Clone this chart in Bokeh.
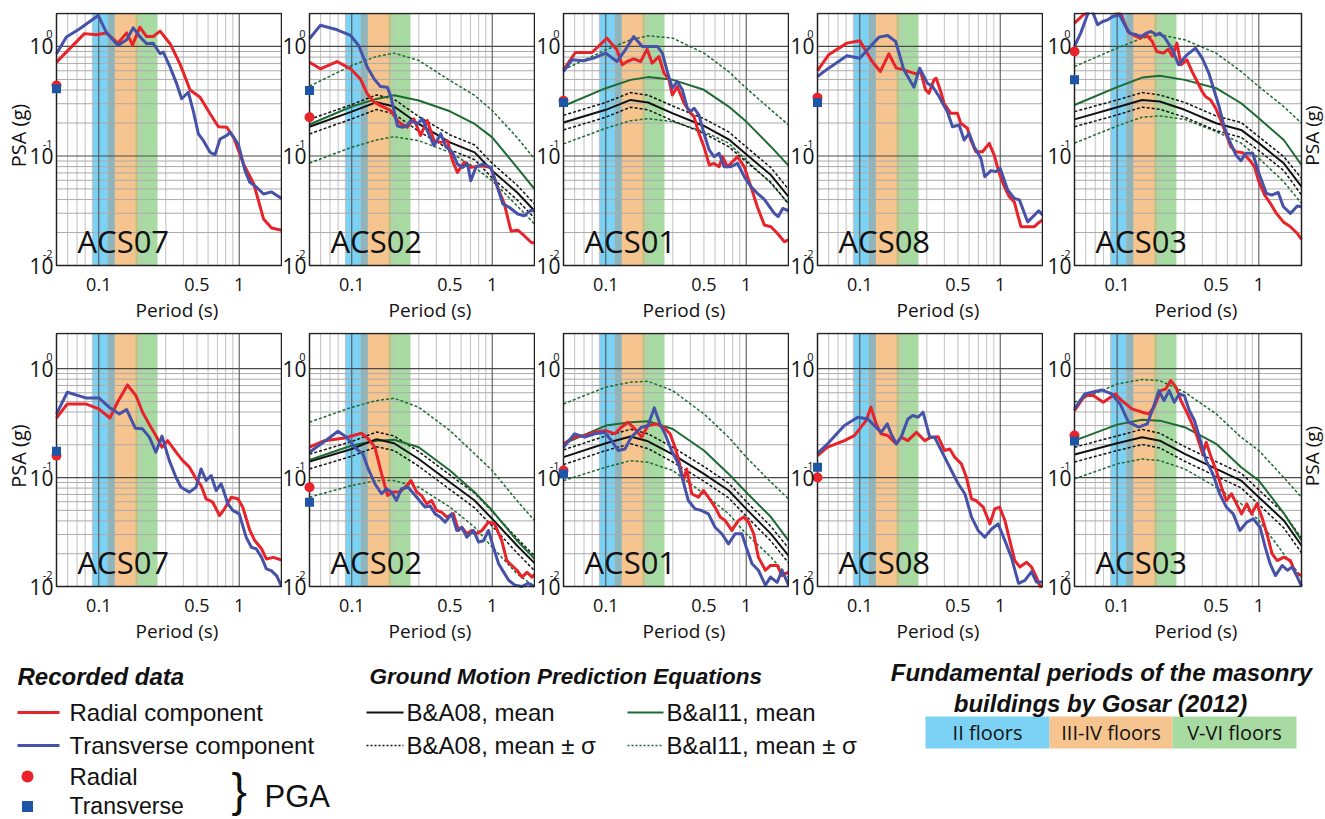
import math
from bokeh.plotting import figure
from bokeh.layouts import row, column
from bokeh.models import Label, Range1d, Spacer
from bokeh.embed import file_html
from bokeh.resources import INLINE

# ---------------- axes / ticks ----------------
X_MIN, X_MAX, Y_MIN = 0.05, 2.0, 0.01
X_TICKS = [0.1, 0.5, 1.0]
X_TICK_LABELS = ["0.1", "0.5", "1"]
Y_TICKS = [0.01, 0.1, 1.0]
Y_TICK_EXP = ["-2", "-1", "0"]
X_GRID_MAJOR = [0.1, 1.0]
X_GRID_MINOR = [0.06, 0.07, 0.08, 0.09, 0.2, 0.3, 0.4, 0.5, 0.6, 0.7, 0.8, 0.9]
Y_GRID_MAJOR = [0.1, 1.0]
Y_GRID_MINOR = [0.02, 0.03, 0.04, 0.05, 0.06, 0.07, 0.08, 0.09,
                0.2, 0.3, 0.4, 0.5, 0.6, 0.7, 0.8, 0.9]

# ---------------- fundamental periods (Gosar 2012) ----------------
BAND_NAMES = ["II floors", "III-IV floors", "V-VI floors"]
BAND_II = (0.090, 0.130)
BAND_III_IV = (0.116, 0.190)
BAND_V_VI = (0.183, 0.262)

# ---------------- GMPE periods ----------------
GMPE_T = [0.05, 0.1, 0.15, 0.2, 0.3, 0.5, 0.75, 1.0, 1.5, 2.0]

# ================= TOP ROW =================
# ACS07 (top)
t_acs07_rad_T = [0.05, 0.079, 0.096, 0.113, 0.137, 0.158, 0.174, 0.196, 0.219, 0.244, 0.273, 0.322, 0.379, 0.447,
                 0.526, 0.62, 0.711, 0.816, 0.912, 1.074, 1.27, 1.49, 1.70, 2.0]
t_acs07_rad_psa = [0.72, 1.31, 1.28, 1.33, 1.07, 1.33, 1.03, 1.50, 1.23, 1.23, 1.38, 1.06, 0.69, 0.40,
                   0.344, 0.243, 0.185, 0.183, 0.148, 0.084, 0.0555, 0.0266, 0.022, 0.021]
t_acs07_tra_T = [0.05, 0.0588, 0.0732, 0.099, 0.113, 0.137, 0.158, 0.176, 0.196, 0.219, 0.244, 0.273, 0.288, 0.322,
                 0.359, 0.389, 0.434, 0.47, 0.512, 0.556, 0.62, 0.673, 0.731, 0.816, 0.86, 0.985, 1.10, 1.19,
                 1.33, 1.49, 1.7, 2.0]
t_acs07_tra_psa = [0.857, 1.22, 1.45, 1.92, 1.35, 1.02, 1.15, 1.48, 1.23, 1.06, 1.07, 0.857, 0.888, 0.647,
                   0.455, 0.333, 0.382, 0.26, 0.159, 0.138, 0.108, 0.103, 0.143, 0.154, 0.165, 0.128, 0.0735,
                   0.0574, 0.0518, 0.045, 0.047, 0.041]
t_acs07_pga = (0.44, 0.41)

# ACS02 (top)
t_acs02_rad_T = [0.05, 0.0597, 0.0786, 0.098, 0.115, 0.129, 0.144, 0.169, 0.189, 0.2, 0.217, 0.248, 0.277, 0.309,
                 0.345, 0.385, 0.43, 0.48, 0.521, 0.565, 0.631, 0.704, 0.83, 0.978, 1.09, 1.22, 1.36, 1.52,
                 1.69, 1.89, 2.0]
t_acs02_rad_psa = [0.719, 0.625, 0.729, 0.625, 0.506, 0.369, 0.310, 0.279, 0.260, 0.234, 0.203, 0.183, 0.218,
                   0.154, 0.211, 0.138, 0.133, 0.138, 0.0908, 0.0709, 0.0874, 0.0787, 0.0816, 0.0787, 0.0518,
                   0.0365, 0.0207, 0.021, 0.0187, 0.0163, 0.016]
t_acs02_tra_T = [0.05, 0.0597, 0.0786, 0.098, 0.112, 0.129, 0.144, 0.160, 0.179, 0.189, 0.2, 0.211, 0.229, 0.248,
                 0.262, 0.293, 0.318, 0.345, 0.385, 0.43, 0.467, 0.521, 0.565, 0.614, 0.667, 0.704, 0.765,
                 0.853, 0.978, 1.09, 1.19, 1.32, 1.52, 1.69, 1.89, 2.0]
t_acs02_tra_psa = [1.175, 1.56, 1.42, 1.26, 1.02, 0.647, 0.506, 0.431, 0.425, 0.356, 0.26, 0.189, 0.183, 0.189,
                   0.211, 0.196, 0.218, 0.170, 0.124, 0.159, 0.122, 0.108, 0.0843, 0.0787, 0.0843, 0.0595,
                   0.0787, 0.0843, 0.0787, 0.0518, 0.0365, 0.034, 0.0295, 0.0285, 0.032, 0.0315]
t_acs02_pga = (0.226, 0.396)
t_acs02_ba_mean = [0.185, 0.254, 0.310, 0.283, 0.196, 0.133, 0.108, 0.0735, 0.0466, 0.0316]
t_acs02_ba_hi = [0.216, 0.295, 0.361, 0.330, 0.229, 0.156, 0.126, 0.0857, 0.0543, 0.0364]
t_acs02_ba_lo = [0.159, 0.218, 0.266, 0.242, 0.168, 0.114, 0.0925, 0.063, 0.0399, 0.0271]
t_acs02_bi_mean = [0.194, 0.283, 0.332, 0.359, 0.321, 0.256, 0.196, 0.148, 0.0787, 0.0499]
t_acs02_bi_hi = [0.434, 0.670, 0.81, 0.869, 0.745, 0.489, 0.357, 0.26, 0.148, 0.094]
t_acs02_bi_lo = [0.0863, 0.120, 0.140, 0.150, 0.138, 0.108, 0.0787, 0.0594, 0.0352, 0.0239]

# ACS01 (top)
t_acs01_rad_T = [0.05, 0.0607, 0.0798, 0.102, 0.12, 0.131, 0.142, 0.158, 0.177, 0.197, 0.214, 0.239, 0.26, 0.282,
                 0.298, 0.323, 0.361, 0.403, 0.425, 0.46, 0.50, 0.545, 0.59, 0.641, 0.678, 0.735, 0.867, 0.968,
                 1.08, 1.2, 1.345, 1.5, 1.67, 1.87, 2.0]
t_acs01_rad_psa = [0.612, 0.881, 0.881, 1.191, 0.932, 0.68, 0.729, 0.771, 0.729, 0.945, 0.704, 0.81, 0.570,
                   0.496, 0.361, 0.431, 0.303, 0.245, 0.229, 0.161, 0.1217, 0.0828, 0.0856, 0.0798, 0.0986,
                   0.0798, 0.0986, 0.0798, 0.0525, 0.0344, 0.0234, 0.0226, 0.0196, 0.0165, 0.0171]
t_acs01_tra_T = [0.05, 0.0575, 0.0696, 0.082, 0.1, 0.12, 0.138, 0.158, 0.182, 0.203, 0.233, 0.253, 0.274, 0.298,
                 0.323, 0.351, 0.381, 0.403, 0.425, 0.46, 0.50, 0.545, 0.59, 0.641, 0.696, 0.777, 0.867, 0.968,
                 1.08, 1.2, 1.345, 1.585, 1.69, 1.82, 2.0]
t_acs01_tra_psa = [0.59, 0.755, 0.74, 0.782, 0.869, 0.729, 0.932, 1.234, 1.0, 1.0, 1.0, 0.869, 0.59, 0.416,
                   0.479, 0.402, 0.273, 0.255, 0.273, 0.237, 0.161, 0.1135, 0.0986, 0.106, 0.0798, 0.0798,
                   0.0859, 0.0647, 0.0525, 0.0456, 0.0402, 0.0299, 0.028, 0.0332, 0.0316]
t_acs01_pga = (0.32, 0.308)
t_acs01_ba_mean = [0.202, 0.264, 0.325, 0.308, 0.245, 0.188, 0.142, 0.1035, 0.067, 0.0425]
t_acs01_ba_hi = [0.2355, 0.308, 0.379, 0.359, 0.286, 0.219, 0.166, 0.121, 0.0782, 0.0496]
t_acs01_ba_lo = [0.173, 0.226, 0.279, 0.264, 0.210, 0.161, 0.1216, 0.0887, 0.0574, 0.0364]
t_acs01_bi_mean = [0.286, 0.416, 0.4955, 0.525, 0.4955, 0.402, 0.2825, 0.206, 0.1216, 0.0817]
t_acs01_bi_hi = [0.612, 0.932, 1.151, 1.252, 1.191, 0.869, 0.59, 0.416, 0.264, 0.192]
t_acs01_bi_lo = [0.129, 0.179, 0.210, 0.219, 0.206, 0.167, 0.131, 0.0918, 0.0562, 0.0369]

# ACS08 (top)
t_acs08_rad_T = [0.05, 0.060, 0.081, 0.1, 0.1225, 0.14, 0.161, 0.182, 0.206, 0.25, 0.271, 0.294, 0.311, 0.338,
                 0.35, 0.377, 0.398, 0.444, 0.496, 0.524, 0.584, 0.617, 0.67, 0.748, 0.835, 0.906, 0.984,
                 1.07, 1.16, 1.26, 1.405, 1.57, 1.75, 1.88, 2.0]
t_acs08_rad_psa = [0.603, 0.839, 1.073, 1.127, 0.729, 0.59, 0.857, 0.634, 0.612, 0.562, 0.59, 0.402, 0.375,
                   0.496, 0.513, 0.388, 0.303, 0.245, 0.245, 0.199, 0.179, 0.140, 0.1093, 0.1093, 0.1305,
                   0.102, 0.0695, 0.0525, 0.0424, 0.038, 0.0226, 0.0226, 0.0226, 0.0246, 0.026]
t_acs08_tra_T = [0.05, 0.06, 0.081, 0.1, 0.116, 0.137, 0.158, 0.18, 0.206, 0.243, 0.267, 0.303, 0.33, 0.367,
                 0.394, 0.42, 0.457, 0.51, 0.553, 0.60, 0.652, 0.728, 0.777, 0.858, 0.93, 1.0, 1.13, 1.26,
                 1.37, 1.57, 1.88, 2.0]
t_acs08_tra_psa = [0.532, 0.634, 0.822, 0.782, 0.965, 1.217, 1.26, 1.11, 0.612, 0.425, 0.634, 0.462, 0.431,
                   0.349, 0.293, 0.255, 0.185, 0.192, 0.140, 0.161, 0.1217, 0.0953, 0.0647, 0.0735, 0.072,
                   0.077, 0.0489, 0.041, 0.0397, 0.025, 0.0316, 0.029]
t_acs08_pga = (0.341, 0.308)

# ACS03 (top)
t_acs03_rad_T = [0.05, 0.0569, 0.0689, 0.0906, 0.107, 0.119, 0.129, 0.1445, 0.161, 0.177, 0.19, 0.212, 0.23,
                 0.246, 0.264, 0.282, 0.311, 0.338, 0.367, 0.398, 0.42, 0.457, 0.496, 0.538, 0.584, 0.634,
                 0.689, 0.769, 0.858, 0.931, 1.0, 1.1, 1.19, 1.33, 1.49, 1.67, 1.87, 2.0]
t_acs03_rad_psa = [1.634, 1.91, 2.32, 2.24, 1.95, 1.37, 1.278, 1.19, 1.278, 1.11, 0.9, 0.869, 0.945, 0.81,
                   1.073, 0.68, 0.755, 0.59, 0.479, 0.388, 0.349, 0.325, 0.273, 0.213, 0.161, 0.1217, 0.1093,
                   0.107, 0.092, 0.0798, 0.0583, 0.0438, 0.038, 0.0299, 0.025, 0.0226, 0.0196, 0.0173]
t_acs03_tra_T = [0.05, 0.0553, 0.0617, 0.065, 0.0728, 0.079, 0.0858, 0.0931, 0.104, 0.113, 0.1225, 0.137,
                 0.148, 0.161, 0.173, 0.19, 0.2, 0.218, 0.246, 0.271, 0.311, 0.357, 0.398, 0.444, 0.482,
                 0.524, 0.569, 0.617, 0.689, 0.748, 0.812, 0.906, 1.0, 1.13, 1.23, 1.37, 1.49, 1.67, 1.87, 2.0]
t_acs03_tra_psa = [1.0, 1.324, 1.95, 2.3, 1.58, 1.69, 1.75, 1.88, 1.95, 1.58, 1.324, 1.278, 1.234, 1.324,
                   1.37, 1.278, 1.324, 1.19, 0.932, 0.68, 0.839, 0.965, 0.782, 0.57, 0.402, 0.283, 0.185,
                   0.140, 0.102, 0.0906, 0.106, 0.106, 0.0695, 0.0456, 0.044, 0.0464, 0.0344, 0.0299,
                   0.035, 0.0344]
t_acs03_pga = (0.9, 0.496)
t_acs03_ba_mean = [0.216, 0.279, 0.325, 0.314, 0.264, 0.199, 0.173, 0.131, 0.0857, 0.0525]
t_acs03_ba_hi = [0.254, 0.325, 0.379, 0.361, 0.308, 0.232, 0.202, 0.150, 0.0986, 0.0625]
t_acs03_ba_lo = [0.185, 0.237, 0.279, 0.267, 0.226, 0.1706, 0.148, 0.112, 0.0735, 0.044]
t_acs03_bi_mean = [0.292, 0.425, 0.52, 0.54, 0.4955, 0.416, 0.303, 0.221, 0.140, 0.0828]
t_acs03_bi_hi = [0.656, 0.966, 1.191, 1.279, 1.151, 0.869, 0.59, 0.43, 0.2825, 0.199]
t_acs03_bi_lo = [0.131, 0.188, 0.226, 0.232, 0.216, 0.167, 0.131, 0.0952, 0.0582, 0.0369]

# ================= BOTTOM ROW =================
# ACS07 (bottom)
b_acs07_rad_T = [0.05, 0.0597, 0.0807, 0.1, 0.12, 0.136, 0.16, 0.184, 0.205, 0.235, 0.255, 0.282, 0.309, 0.355,
                 0.396, 0.442, 0.493, 0.535, 0.581, 0.648, 0.724, 0.786, 0.877, 0.978, 1.06, 1.19, 1.29, 1.44,
                 1.56, 1.75, 2.0]
b_acs07_rad_psa = [0.352, 0.474, 0.474, 0.427, 0.352, 0.491, 0.708, 0.565, 0.398, 0.29, 0.243, 0.19, 0.218,
                   0.171, 0.143, 0.1245, 0.0973, 0.0845, 0.0637, 0.0594, 0.0448, 0.0516, 0.066, 0.064, 0.0535,
                   0.0327, 0.0264, 0.0222, 0.0179, 0.0185, 0.0175]
b_acs07_tra_T = [0.05, 0.0597, 0.0807, 0.1, 0.1185, 0.14, 0.158, 0.182, 0.205, 0.229, 0.255, 0.282, 0.318,
                 0.355, 0.385, 0.442, 0.493, 0.535, 0.581, 0.631, 0.685, 0.744, 0.83, 0.90, 1.0, 1.12, 1.22,
                 1.32, 1.44, 1.56, 1.69, 1.85, 2.0]
b_acs07_tra_psa = [0.384, 0.607, 0.538, 0.538, 0.442, 0.384, 0.42, 0.284, 0.28, 0.235, 0.171, 0.24, 0.143,
                   0.1, 0.0815, 0.0735, 0.0815, 0.12, 0.094, 0.1045, 0.076, 0.0877, 0.0574, 0.05, 0.0464,
                   0.0284, 0.0229, 0.0222, 0.0186, 0.0145, 0.014, 0.0125, 0.0100]
b_acs07_pga = (0.159, 0.174)

# ACS02 (bottom)
b_acs02_rad_T = [0.05, 0.064, 0.089, 0.117, 0.131, 0.146, 0.163, 0.18, 0.197, 0.22, 0.246, 0.264, 0.29, 0.314,
                 0.341, 0.37, 0.402, 0.437, 0.474, 0.529, 0.575, 0.607, 0.659, 0.716, 0.775, 0.844, 0.941,
                 1.04, 1.17, 1.27, 1.38, 1.5, 1.63, 1.77, 1.92, 2.0]
b_acs02_rad_psa = [0.19, 0.218, 0.231, 0.255, 0.227, 0.19, 0.108, 0.0684, 0.0735, 0.0735, 0.0845, 0.094,
                   0.0735, 0.0684, 0.0574, 0.0617, 0.05, 0.048, 0.0434, 0.0466, 0.0327, 0.035, 0.0305,
                   0.0327, 0.0305, 0.0327, 0.039, 0.0376, 0.0264, 0.0173, 0.0156, 0.0141, 0.0122, 0.0135,
                   0.0122, 0.013]
b_acs02_tra_T = [0.05, 0.0678, 0.0798, 0.0916, 0.108, 0.12, 0.131, 0.146, 0.163, 0.177, 0.192, 0.208, 0.226,
                 0.252, 0.29, 0.332, 0.361, 0.392, 0.425, 0.462, 0.515, 0.56, 0.607, 0.659, 0.735, 0.80,
                 0.866, 0.941, 1.02, 1.11, 1.2, 1.31, 1.45, 1.63, 1.8, 2.0]
b_acs02_tra_psa = [0.171, 0.227, 0.266, 0.235, 0.183, 0.165, 0.12, 0.0877, 0.071, 0.079, 0.0735, 0.0617,
                   0.079, 0.0815, 0.066, 0.0535, 0.055, 0.0464, 0.0434, 0.039, 0.0464, 0.0327, 0.035,
                   0.0284, 0.0327, 0.0256, 0.0263, 0.0327, 0.0229, 0.0162, 0.0137, 0.0114, 0.0103, 0.0100,
                   0.0107, 0.0100]
b_acs02_pga = (0.0815, 0.0594)
b_acs02_ba_mean = [0.140, 0.183, 0.225, 0.2065, 0.148, 0.0906, 0.0615, 0.0418, 0.0238, 0.0164]
b_acs02_ba_hi = [0.164, 0.214, 0.262, 0.241, 0.173, 0.1057, 0.0718, 0.0488, 0.0277, 0.0191]
b_acs02_ba_lo = [0.120, 0.157, 0.192, 0.177, 0.127, 0.0776, 0.0527, 0.0358, 0.0204, 0.014]
b_acs02_bi_mean = [0.145, 0.197, 0.218, 0.222, 0.19, 0.116, 0.0733, 0.0498, 0.0264, 0.018]
b_acs02_bi_hi = [0.322, 0.442, 0.508, 0.535, 0.442, 0.27, 0.165, 0.116, 0.0615, 0.0404]
b_acs02_bi_lo = [0.066, 0.0845, 0.0938, 0.0938, 0.0815, 0.0535, 0.035, 0.023, 0.0131, 0.0100]

# ACS01 (bottom)
b_acs01_rad_T = [0.05, 0.06, 0.0708, 0.0835, 0.1, 0.116, 0.129, 0.144, 0.161, 0.18, 0.2, 0.23, 0.257, 0.287,
                 0.311, 0.329, 0.357, 0.377, 0.409, 0.457, 0.496, 0.538, 0.6, 0.652, 0.707, 0.79, 0.881,
                 0.958, 1.04, 1.13, 1.22, 1.37, 1.49, 1.66, 1.8, 2.0]
b_acs01_rad_psa = [0.204, 0.235, 0.243, 0.26, 0.27, 0.252, 0.29, 0.322, 0.28, 0.235, 0.30, 0.31, 0.29,
                   0.252, 0.19, 0.148, 0.094, 0.12, 0.071, 0.066, 0.076, 0.066, 0.0535, 0.0434, 0.0404,
                   0.0327, 0.0404, 0.0434, 0.039, 0.0305, 0.0186, 0.0141, 0.0156, 0.0156, 0.0126, 0.0136]
b_acs01_tra_T = [0.05, 0.06, 0.0708, 0.0835, 0.098, 0.11, 0.1225, 0.137, 0.152, 0.18, 0.2, 0.2215, 0.243,
                 0.264, 0.294, 0.329, 0.357, 0.387, 0.432, 0.482, 0.538, 0.6, 0.67, 0.748, 0.835, 0.931, 1.0,
                 1.1, 1.22, 1.37, 1.49, 1.66, 1.8, 2.0]
b_acs01_tra_psa = [0.19, 0.252, 0.235, 0.252, 0.26, 0.218, 0.177, 0.183, 0.235, 0.29, 0.30, 0.436, 0.311,
                   0.252, 0.177, 0.1335, 0.0906, 0.0615, 0.0516, 0.0498, 0.0464, 0.035, 0.0305, 0.0246,
                   0.0305, 0.0305, 0.0229, 0.0162, 0.0141, 0.0103, 0.0122, 0.0109, 0.0141, 0.0103]
b_acs01_pga = (0.116, 0.108)
b_acs01_ba_mean = [0.154, 0.2065, 0.238, 0.215, 0.163, 0.108, 0.076, 0.0516, 0.0304, 0.0192]
b_acs01_ba_hi = [0.1795, 0.241, 0.277, 0.252, 0.19, 0.126, 0.0887, 0.0603, 0.0355, 0.0225]
b_acs01_ba_lo = [0.1315, 0.177, 0.204, 0.1845, 0.139, 0.0925, 0.065, 0.0442, 0.0261, 0.0165]
b_acs01_bi_mean = [0.204, 0.30, 0.322, 0.329, 0.279, 0.177, 0.108, 0.0733, 0.0434, 0.0264]
b_acs01_bi_hi = [0.474, 0.675, 0.75, 0.766, 0.628, 0.384, 0.234, 0.154, 0.0906, 0.0637]
b_acs01_bi_lo = [0.0938, 0.1245, 0.143, 0.138, 0.116, 0.071, 0.0464, 0.0304, 0.0186, 0.0122]

# ACS08 (bottom)
b_acs08_rad_T = [0.05, 0.059, 0.0777, 0.0916, 0.102, 0.111, 0.12, 0.131, 0.142, 0.158, 0.182, 0.197, 0.22,
                 0.253, 0.29, 0.323, 0.361, 0.402, 0.437, 0.474, 0.529, 0.575, 0.625, 0.67, 0.757, 0.844,
                 0.914, 0.99, 1.08, 1.17, 1.27, 1.38, 1.54, 1.67, 1.81, 1.92, 2.0]
b_acs08_rad_psa = [0.159, 0.19, 0.218, 0.243, 0.29, 0.334, 0.442, 0.311, 0.252, 0.243, 0.204, 0.235, 0.218,
                   0.26, 0.218, 0.235, 0.237, 0.177, 0.183, 0.154, 0.1335, 0.1, 0.0637, 0.0616, 0.0535,
                   0.0375, 0.0516, 0.0535, 0.0404, 0.0264, 0.0173, 0.0151, 0.0167, 0.0151, 0.0122, 0.0100,
                   0.0101]
b_acs08_tra_T = [0.05, 0.059, 0.0777, 0.0968, 0.114, 0.127, 0.142, 0.157, 0.167, 0.182, 0.197, 0.22, 0.239,
                 0.26, 0.282, 0.315, 0.341, 0.37, 0.402, 0.449, 0.502, 0.56, 0.625, 0.696, 0.777, 0.868,
                 0.967, 1.08, 1.2, 1.35, 1.5, 1.67, 1.81, 2.0]
b_acs08_tra_psa = [0.167, 0.204, 0.3, 0.358, 0.345, 0.3, 0.26, 0.311, 0.252, 0.204, 0.235, 0.345, 0.371,
                   0.358, 0.398, 0.235, 0.235, 0.19, 0.154, 0.116, 0.0877, 0.071, 0.0434, 0.0327, 0.0284,
                   0.0337, 0.0375, 0.0264, 0.0186, 0.0107, 0.0114, 0.0137, 0.011, 0.011]
b_acs08_pga = (0.1, 0.1245)

# ACS03 (bottom)
b_acs03_rad_T = [0.05, 0.059, 0.0678, 0.0798, 0.0968, 0.108, 0.127, 0.15, 0.167, 0.182, 0.203, 0.22, 0.239,
                 0.26, 0.282, 0.306, 0.33, 0.361, 0.402, 0.425, 0.46, 0.5, 0.545, 0.59, 0.641, 0.696, 0.755,
                 0.822, 0.89, 0.968, 1.05, 1.14, 1.24, 1.35, 1.5, 1.67, 1.82, 2.0]
b_acs03_rad_psa = [0.412, 0.565, 0.565, 0.491, 0.585, 0.509, 0.427, 0.398, 0.384, 0.442, 0.628, 0.65, 0.776,
                   0.674, 0.509, 0.412, 0.334, 0.252, 0.165, 0.211, 0.154, 0.116, 0.0815, 0.0615, 0.071,
                   0.0574, 0.0464, 0.0574, 0.0464, 0.0574, 0.0434, 0.0305, 0.0199, 0.0173, 0.0186, 0.0173,
                   0.0131, 0.0127]
b_acs03_tra_T = [0.05, 0.059, 0.0777, 0.0916, 0.105, 0.12, 0.142, 0.163, 0.177, 0.197, 0.214, 0.233, 0.253,
                 0.274, 0.298, 0.323, 0.351, 0.381, 0.425, 0.474, 0.529, 0.59, 0.659, 0.735, 0.822, 0.914,
                 1.02, 1.11, 1.2, 1.31, 1.46, 1.59, 1.72, 1.87, 2.0]
b_acs03_tra_psa = [0.427, 0.585, 0.637, 0.585, 0.474, 0.322, 0.29, 0.311, 0.412, 0.628, 0.509, 0.628, 0.491,
                   0.585, 0.565, 0.412, 0.334, 0.235, 0.143, 0.108, 0.071, 0.0535, 0.0464, 0.0327, 0.039,
                   0.0418, 0.035, 0.0229, 0.0162, 0.0126, 0.0156, 0.0141, 0.0151, 0.0122, 0.0101]
b_acs03_pga = (0.243, 0.216)
b_acs03_ba_mean = [0.163, 0.2065, 0.234, 0.218, 0.165, 0.120, 0.0938, 0.066, 0.0404, 0.0238]
b_acs03_ba_hi = [0.19, 0.241, 0.277, 0.255, 0.192, 0.140, 0.1096, 0.077, 0.0471, 0.0277]
b_acs03_ba_lo = [0.139, 0.177, 0.201, 0.187, 0.141, 0.1028, 0.0804, 0.0565, 0.0345, 0.0204]
b_acs03_bi_mean = [0.218, 0.306, 0.340, 0.333, 0.29, 0.204, 0.1245, 0.0938, 0.047, 0.0264]
b_acs03_bi_hi = [0.491, 0.723, 0.793, 0.776, 0.607, 0.384, 0.234, 0.177, 0.1, 0.066]
b_acs03_bi_lo = [0.0972, 0.1335, 0.148, 0.143, 0.120, 0.0815, 0.0574, 0.0404, 0.0199, 0.0122]

# ---------------- styles / layout ----------------
RED = "#e8232a"
BLUE = "#4552a8"
PGA_BLUE = "#1f55a5"
GREEN = "#1d6b32"
BLACK = "#111111"
BAND_COLORS = ["#7bd2f4", "#f6c48e", "#a8dba2"]
OVERLAP_COLORS = ["#8db5bb", "#c6bf82"]
TXT_FONT = "Open Sans"
LEG_FONT = "Liberation Sans"
TXT_COLOR = "#111111"

COLS = [  # left margin, plot width, right margin, PSA label side
    (56, 225, 1, "left"),
    (27, 225, 1, None),
    (28, 225, 1, None),
    (28, 225, 1, None),
    (31, 227, 24, "right"),
]
ROWS = [  # top margin, plot height, bottom margin, y max
    (1, 252, 67, 2.0),
    (1, 253, 60, 2.1),
]
TOP_PAD = 12


def make_panel(station, rad, tra, pga, gmpe, col, rw):
    lm, fw, rm, psa_side = col
    tm, fh, bm, ymax = rw
    ppx = fw / math.log10(X_MAX / X_MIN)
    ppy = fh / math.log10(ymax / Y_MIN)
    p = figure(width=lm + fw + rm, height=tm + fh + bm,
               x_axis_type="log", y_axis_type="log",
               x_range=Range1d(X_MIN / 10 ** (lm / ppx), X_MAX * 10 ** (rm / ppx)),
               y_range=Range1d(Y_MIN / 10 ** (bm / ppy), ymax * 10 ** (tm / ppy)),
               x_axis_location=None, y_axis_location=None,
               output_backend="svg", toolbar_location=None, min_border=0)
    p.outline_line_color = None
    p.xgrid.visible = False
    p.ygrid.visible = False
    p.background_fill_color = "white"
    p.border_fill_color = "white"

    # period bands
    bands = [BAND_II, BAND_III_IV, BAND_V_VI]
    for (a, b), c in zip(bands, BAND_COLORS):
        p.quad(left=[a], right=[b], bottom=[Y_MIN], top=[ymax], fill_color=c, line_color=None)
    for (b1, b2), c in zip([(bands[0], bands[1]), (bands[1], bands[2])], OVERLAP_COLORS):
        p.quad(left=[max(b1[0], b2[0])], right=[min(b1[1], b2[1])], bottom=[Y_MIN], top=[ymax],
               fill_color=c, line_color=None)

    # grid lines at the tick positions
    p.segment(x0=X_GRID_MINOR, x1=X_GRID_MINOR, y0=[Y_MIN] * len(X_GRID_MINOR), y1=[ymax] * len(X_GRID_MINOR),
              line_color="#c2c2c2", line_width=1)
    p.segment(x0=[X_MIN] * len(Y_GRID_MINOR), x1=[X_MAX] * len(Y_GRID_MINOR), y0=Y_GRID_MINOR, y1=Y_GRID_MINOR,
              line_color="#ababab", line_width=1)
    p.segment(x0=X_GRID_MAJOR, x1=X_GRID_MAJOR, y0=[Y_MIN] * len(X_GRID_MAJOR), y1=[ymax] * len(X_GRID_MAJOR),
              line_color="#4a4a4a", line_width=1)
    p.segment(x0=[X_MIN] * len(Y_GRID_MAJOR), x1=[X_MAX] * len(Y_GRID_MAJOR), y0=Y_GRID_MAJOR, y1=Y_GRID_MAJOR,
              line_color="#4a4a4a", line_width=1.2)

    # GMPEs
    if gmpe is not None:
        ba_mean, ba_hi, ba_lo, bi_mean, bi_hi, bi_lo = gmpe
        for ys in (bi_hi, bi_lo):
            p.line(GMPE_T, ys, line_color=GREEN, line_width=1.5, line_dash="3 2")
        for ys in (ba_hi, ba_lo):
            p.line(GMPE_T, ys, line_color=BLACK, line_width=1.5, line_dash="3 2")
        p.line(GMPE_T, bi_mean, line_color=GREEN, line_width=2)
        p.line(GMPE_T, ba_mean, line_color=BLACK, line_width=2)

    # recorded spectra
    p.line(rad[0], rad[1], line_color=RED, line_width=3, line_join="round")
    p.line(tra[0], tra[1], line_color=BLUE, line_width=3, line_join="round")

    # plot frame
    p.quad(left=[X_MIN], right=[X_MAX], bottom=[Y_MIN], top=[ymax], fill_color=None,
           line_color="#222222", line_width=1.5)

    # PGA markers on the left frame edge
    p.scatter([X_MIN], [pga[0]], marker="circle", size=10, fill_color=RED, line_color=None)
    p.scatter([X_MIN], [pga[1]], marker="square", size=9, fill_color=PGA_BLUE, line_color=None)

    def lab(x, y, text, size, xo=0, yo=0, align="center", baseline="middle", angle=0.0):
        p.add_layout(Label(x=x, y=y, x_offset=xo, y_offset=yo, text=text, text_font=TXT_FONT,
                           text_font_size=size, text_align=align, text_baseline=baseline,
                           angle=angle, text_color=TXT_COLOR))

    # y tick labels 10^n
    for yv, ex in zip(Y_TICKS, Y_TICK_EXP):
        lab(X_MIN, yv, "10", "21px", xo=-3, align="right")
        lab(X_MIN, yv, ex, "11px", xo=-4, yo=12, align="right", baseline="alphabetic")
    # x tick labels
    for xv, tl in zip(X_TICKS, X_TICK_LABELS):
        lab(xv, Y_MIN, tl, "18px", yo=-19)
    x_mid = math.sqrt(X_MIN * X_MAX)
    y_mid = math.sqrt(Y_MIN * ymax)
    lab(x_mid, Y_MIN, "Period (s)", "19px", xo=8, yo=-44)
    # station
    lab(X_MIN, Y_MIN, station, "31px", xo=21, yo=25, align="left", baseline="alphabetic")
    # PSA label
    if psa_side == "left":
        lab(X_MIN, y_mid, "PSA (g)", "20px", xo=-38, yo=4, angle=math.pi / 2)
    elif psa_side == "right":
        lab(X_MAX, y_mid, "PSA (g)", "19px", xo=10, yo=4, angle=math.pi / 2)
    return p


top_specs = [
    ("ACS07", (t_acs07_rad_T, t_acs07_rad_psa), (t_acs07_tra_T, t_acs07_tra_psa), t_acs07_pga, None),
    ("ACS02", (t_acs02_rad_T, t_acs02_rad_psa), (t_acs02_tra_T, t_acs02_tra_psa), t_acs02_pga,
     (t_acs02_ba_mean, t_acs02_ba_hi, t_acs02_ba_lo, t_acs02_bi_mean, t_acs02_bi_hi, t_acs02_bi_lo)),
    ("ACS01", (t_acs01_rad_T, t_acs01_rad_psa), (t_acs01_tra_T, t_acs01_tra_psa), t_acs01_pga,
     (t_acs01_ba_mean, t_acs01_ba_hi, t_acs01_ba_lo, t_acs01_bi_mean, t_acs01_bi_hi, t_acs01_bi_lo)),
    ("ACS08", (t_acs08_rad_T, t_acs08_rad_psa), (t_acs08_tra_T, t_acs08_tra_psa), t_acs08_pga, None),
    ("ACS03", (t_acs03_rad_T, t_acs03_rad_psa), (t_acs03_tra_T, t_acs03_tra_psa), t_acs03_pga,
     (t_acs03_ba_mean, t_acs03_ba_hi, t_acs03_ba_lo, t_acs03_bi_mean, t_acs03_bi_hi, t_acs03_bi_lo)),
]
bot_specs = [
    ("ACS07", (b_acs07_rad_T, b_acs07_rad_psa), (b_acs07_tra_T, b_acs07_tra_psa), b_acs07_pga, None),
    ("ACS02", (b_acs02_rad_T, b_acs02_rad_psa), (b_acs02_tra_T, b_acs02_tra_psa), b_acs02_pga,
     (b_acs02_ba_mean, b_acs02_ba_hi, b_acs02_ba_lo, b_acs02_bi_mean, b_acs02_bi_hi, b_acs02_bi_lo)),
    ("ACS01", (b_acs01_rad_T, b_acs01_rad_psa), (b_acs01_tra_T, b_acs01_tra_psa), b_acs01_pga,
     (b_acs01_ba_mean, b_acs01_ba_hi, b_acs01_ba_lo, b_acs01_bi_mean, b_acs01_bi_hi, b_acs01_bi_lo)),
    ("ACS08", (b_acs08_rad_T, b_acs08_rad_psa), (b_acs08_tra_T, b_acs08_tra_psa), b_acs08_pga, None),
    ("ACS03", (b_acs03_rad_T, b_acs03_rad_psa), (b_acs03_tra_T, b_acs03_tra_psa), b_acs03_pga,
     (b_acs03_ba_mean, b_acs03_ba_hi, b_acs03_ba_lo, b_acs03_bi_mean, b_acs03_bi_hi, b_acs03_bi_lo)),
]

rows = []
for specs, rw in zip([top_specs, bot_specs], ROWS):
    rows.append(row(*[make_panel(st, rad, tra, pga, gm, col, rw)
                      for (st, rad, tra, pga, gm), col in zip(specs, COLS)]))

# ---------------- legend panel (page pixel coordinates) ----------------
LEG_TOP = TOP_PAD + sum(tm + fh + bm for tm, fh, bm, _ in ROWS)
leg = figure(width=1325, height=819 - LEG_TOP, x_range=Range1d(0, 1325), y_range=Range1d(819, LEG_TOP),
             output_backend="svg", toolbar_location=None, min_border=0,
             x_axis_location=None, y_axis_location=None)
leg.outline_line_color = None
leg.xgrid.visible = False
leg.ygrid.visible = False


def ltext(x, y, s, size="23px", style="normal", align="left", font=LEG_FONT):
    leg.add_layout(Label(x=x, y=y, text=s, text_font=font, text_font_size=size,
                         text_font_style=style, text_align=align, text_baseline="middle",
                         text_color=TXT_COLOR))


ltext(17, 676, "Recorded data", size="24px", style="bold italic")
leg.line([17, 59], [712, 712], line_color=RED, line_width=3)
ltext(69, 712, "Radial component", size="24px")
leg.line([17, 59], [745, 745], line_color=BLUE, line_width=3)
ltext(69, 745, "Transverse component", size="24px")
leg.scatter([27], [776], marker="circle", size=12, fill_color=RED, line_color=None)
ltext(69, 776, "Radial", size="24px")
leg.scatter([27], [806], marker="square", size=11, fill_color=PGA_BLUE, line_color=None)
ltext(69, 805, "Transverse", size="23px")
ltext(231, 789, "}", size="46px")
ltext(264, 796, "PGA", size="31px")

ltext(369, 676, "Ground Motion Prediction Equations", size="22.5px", style="bold italic")
leg.line([366, 403], [712, 712], line_color=BLACK, line_width=2)
ltext(406, 712, "B&A08, mean", size="24px")
leg.line([366, 403], [745, 745], line_color=BLACK, line_width=1.5, line_dash="2 2")
ltext(406, 745, "B&A08, mean \u00b1 \u03c3", size="24px")
leg.line([627, 663], [712, 712], line_color=GREEN, line_width=2)
ltext(666, 712, "B&al11, mean", size="24px")
leg.line([627, 663], [745, 745], line_color=GREEN, line_width=1.5, line_dash="2 2")
ltext(666, 745, "B&al11, mean \u00b1 \u03c3", size="24px")

ltext(1101, 672, "Fundamental periods of the masonry", size="24px", style="bold italic", align="center")
ltext(1100, 703, "buildings by Gosar (2012)", size="24px", style="bold italic", align="center")
box_edges = [925, 1049, 1172, 1296]
for i, (nm, c) in enumerate(zip(BAND_NAMES, BAND_COLORS)):
    leg.quad(left=[box_edges[i]], right=[box_edges[i + 1]], top=[716], bottom=[748],
             fill_color=c, line_color=None)
    ltext((box_edges[i] + box_edges[i + 1]) / 2, 732, nm, size="20px", align="center", font=TXT_FONT)

layout = column(Spacer(width=1325, height=TOP_PAD), rows[0], rows[1], leg)
open("out.html", "w").write(file_html(layout, INLINE))
